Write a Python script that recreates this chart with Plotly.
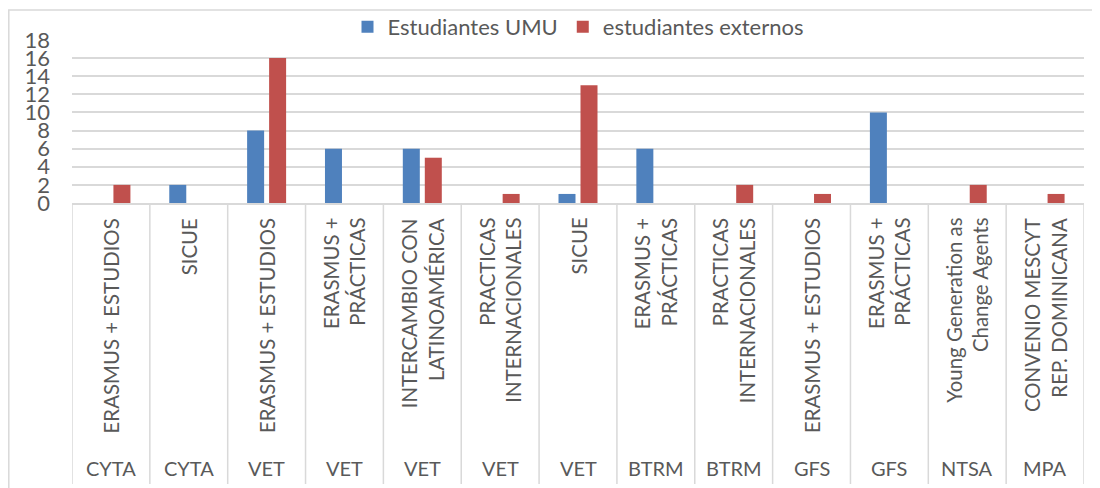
import plotly.graph_objects as go

programas = ["CYTA", "CYTA", "VET", "VET", "VET", "VET", "VET",
             "BTRM", "BTRM", "GFS", "GFS", "NTSA", "MPA"]
movilidades = ["ERASMUS + ESTUDIOS", "SICUE", "ERASMUS + ESTUDIOS",
               "ERASMUS +<br>PRÁCTICAS", "INTERCAMBIO CON<br>LATINOAMÉRICA",
               "PRACTICAS<br>INTERNACIONALES", "SICUE",
               "ERASMUS +<br>PRÁCTICAS", "PRACTICAS<br>INTERNACIONALES",
               "ERASMUS + ESTUDIOS", "ERASMUS +<br>PRÁCTICAS",
               "Young Generation as<br>Change Agents",
               "CONVENIO MESCYT<br>REP. DOMINICANA"]
umu = [0, 2, 8, 6, 6, 0, 1, 6, 0, 0, 10, 0, 0]
externos = [2, 0, 16, 0, 5, 1, 13, 0, 2, 1, 0, 2, 1]
y_ticks = [0, 2, 4, 6, 8, 10, 12, 14, 16, 18]

keys = [f"{p}|{m}" for p, m in zip(programas, movilidades)]

FONT = "Lato"
GREY = "#595959"
LINE = "#D9D9D9"

# page body has an 8px margin: figure is drawn at (8, 8) in the window
OFF = 8
W, H = 1100 - OFF, 488 - OFF
ML, MR, MT, MB = 72 - OFF, 16, 40 - OFF, 285
PH = H - MT - MB
PW = W - ML - MR
PX0, PY0 = 72, 203   # plot-area left / bottom in window pixels

fig = go.Figure()
fig.add_trace(go.Bar(name="Estudiantes UMU", x=keys, y=umu,
                     marker=dict(color="#4F81BD", line=dict(width=0))))
fig.add_trace(go.Bar(name="estudiantes externos", x=keys, y=externos,
                     marker=dict(color="#C0504D", line=dict(width=0))))

annotations = []
shapes = []
for k, p, m in zip(keys, programas, movilidades):
    annotations.append(dict(x=k, xref="x", y=0, yref="y", yshift=-13,
                            text=m, textangle=-90, showarrow=False,
                            xanchor="center", yanchor="top", align="right",
                            font=dict(family=FONT, size=20.4, color=GREY)))
    annotations.append(dict(x=k, xref="x", y=0, yref="y", yshift=-265,
                            text=p, showarrow=False,
                            xanchor="center", yanchor="middle",
                            font=dict(family=FONT, size=20, color=GREY)))
for i in range(len(keys) + 1):
    shapes.append(dict(type="line", xref="x", x0=i - 0.5, x1=i - 0.5,
                       yref="paper", y0=0, y1=-281 / PH,
                       line=dict(color=LINE, width=1.5)))
# chart area border
shapes.append(dict(type="rect", xref="paper", yref="paper",
                   x0=(8.8 - PX0) / PW, x1=(1110 - PX0) / PW,
                   y0=(PY0 - 495) / PH, y1=(PY0 - 10) / PH,
                   line=dict(color=LINE, width=1.5), layer="below"))

fig.update_layout(
    template="none",
    width=W, height=H,
    margin=dict(l=ML, r=MR, t=MT, b=MB, autoexpand=False),
    paper_bgcolor="white", plot_bgcolor="white",
    barmode="group", bargap=0.435, bargroupgap=0.227,
    font=dict(family=FONT, color=GREY),
    showlegend=True,
    legend=dict(orientation="h", x=0.5, xanchor="center",
                y=(PY0 - 27) / PH, yanchor="middle",
                font=dict(family=FONT, size=22, color=GREY),
                bgcolor="rgba(0,0,0,0)", itemwidth=30),
    annotations=annotations, shapes=shapes,
)
fig.update_xaxes(type="category", showticklabels=False, showgrid=False,
                 showline=True, linecolor=LINE, linewidth=1.5,
                 range=[-0.5, len(keys) - 0.5], zeroline=False,
                 automargin=False)
fig.update_yaxes(range=[0, 18], tickvals=y_ticks, showgrid=True,
                 gridcolor=LINE, gridwidth=1.5, zeroline=False,
                 showline=False, ticks="", ticklabelstandoff=21,
                 automargin=False,
                 tickfont=dict(family=FONT, size=22, color=GREY))

fig.write_html("out.html")
